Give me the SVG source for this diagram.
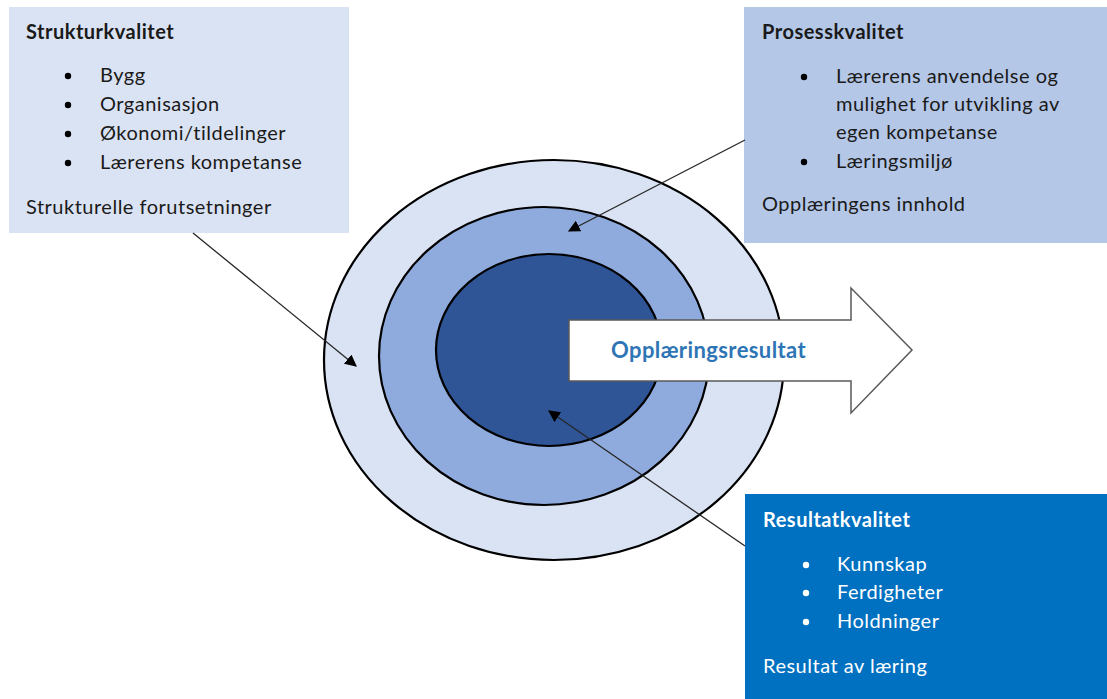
<svg xmlns="http://www.w3.org/2000/svg" width="1107" height="699" viewBox="0 0 1107 699">
  <style>
    .t { font-family: Lato, "Open Sans", "Liberation Sans", sans-serif; font-size: 20px; letter-spacing: 0.5px; fill: #1a1a1a; }
    .b { font-weight: bold; }
    .w { fill: #ffffff; }
    .ring { stroke: #000000; stroke-width: 2.2; }
    .conn { stroke: #262626; stroke-width: 1.3; fill: none; marker-end: url(#tri); }
  </style>
  <defs>
    <marker id="tri" viewBox="0 0 10 10" refX="9" refY="5" markerWidth="12" markerHeight="12" markerUnits="userSpaceOnUse" orient="auto">
      <path d="M0,0 L10,5 L0,10 Z" fill="#000000"/>
    </marker>
  </defs>
  <rect width="1107" height="699" fill="#ffffff"/>

  <!-- concentric quality rings -->
  <g id="rings">
    <ellipse class="ring" cx="554" cy="360" rx="230" ry="200" fill="#dae3f3"/>
    <ellipse class="ring" cx="544" cy="356" rx="165" ry="149" fill="#8faadc"/>
    <ellipse class="ring" cx="549" cy="350" rx="113" ry="96" fill="#2f5597"/>
  </g>

  <!-- outcome arrow -->
  <g id="opplaeringsresultat">
    <path d="M569,320 L851,320 L851,288 L912,350 L851,413 L851,381 L569,381 Z" fill="#ffffff" stroke="#595959" stroke-width="1.5"/>
    <text class="t b" x="611" y="358" style="font-size:22px; letter-spacing:0.4px; fill:#2e75b6">Opplæringsresultat</text>
  </g>

  <!-- structure quality -->
  <g id="strukturkvalitet">
    <rect x="9" y="7" width="340" height="226" fill="#dae3f3"/>
    <text class="t b" x="26" y="39">Strukturkvalitet</text>
    <circle cx="68" cy="76" r="3.2" fill="#000"/>
    <circle cx="68" cy="105" r="3.2" fill="#000"/>
    <circle cx="68" cy="134" r="3.2" fill="#000"/>
    <circle cx="68" cy="163" r="3.2" fill="#000"/>
    <text class="t" x="100" y="82">Bygg</text>
    <text class="t" x="100" y="111">Organisasjon</text>
    <text class="t" x="100" y="140">Økonomi/tildelinger</text>
    <text class="t" x="100" y="169">Lærerens kompetanse</text>
    <text class="t" x="26" y="214">Strukturelle forutsetninger</text>
  </g>

  <!-- process quality -->
  <g id="prosesskvalitet">
    <rect x="744" y="7" width="363" height="236" fill="#b4c7e7"/>
    <text class="t b" x="762" y="39">Prosesskvalitet</text>
    <circle cx="804" cy="77" r="3.2" fill="#000"/>
    <circle cx="804" cy="162" r="3.2" fill="#000"/>
    <text class="t" x="836" y="83">Lærerens anvendelse og</text>
    <text class="t" x="836" y="111">mulighet for utvikling av</text>
    <text class="t" x="836" y="139">egen kompetanse</text>
    <text class="t" x="836" y="168">Læringsmiljø</text>
    <text class="t" x="762" y="211">Opplæringens innhold</text>
  </g>

  <!-- result quality -->
  <g id="resultatkvalitet">
    <rect x="745" y="494" width="362" height="205" fill="#0070c0"/>
    <text class="t b w" x="763" y="527">Resultatkvalitet</text>
    <circle cx="806" cy="565" r="3.2" fill="#fff"/>
    <circle cx="806" cy="593" r="3.2" fill="#fff"/>
    <circle cx="806" cy="622" r="3.2" fill="#fff"/>
    <text class="t w" x="837" y="571">Kunnskap</text>
    <text class="t w" x="837" y="599">Ferdigheter</text>
    <text class="t w" x="837" y="628">Holdninger</text>
    <text class="t w" x="763" y="673">Resultat av læring</text>
  </g>

  <!-- pointers from each box into its ring -->
  <g id="connectors">
    <line class="conn" x1="193" y1="233" x2="356" y2="366"/>
    <line class="conn" x1="745" y1="140" x2="569" y2="231"/>
    <line class="conn" x1="745" y1="546" x2="549" y2="411"/>
  </g>
</svg>
